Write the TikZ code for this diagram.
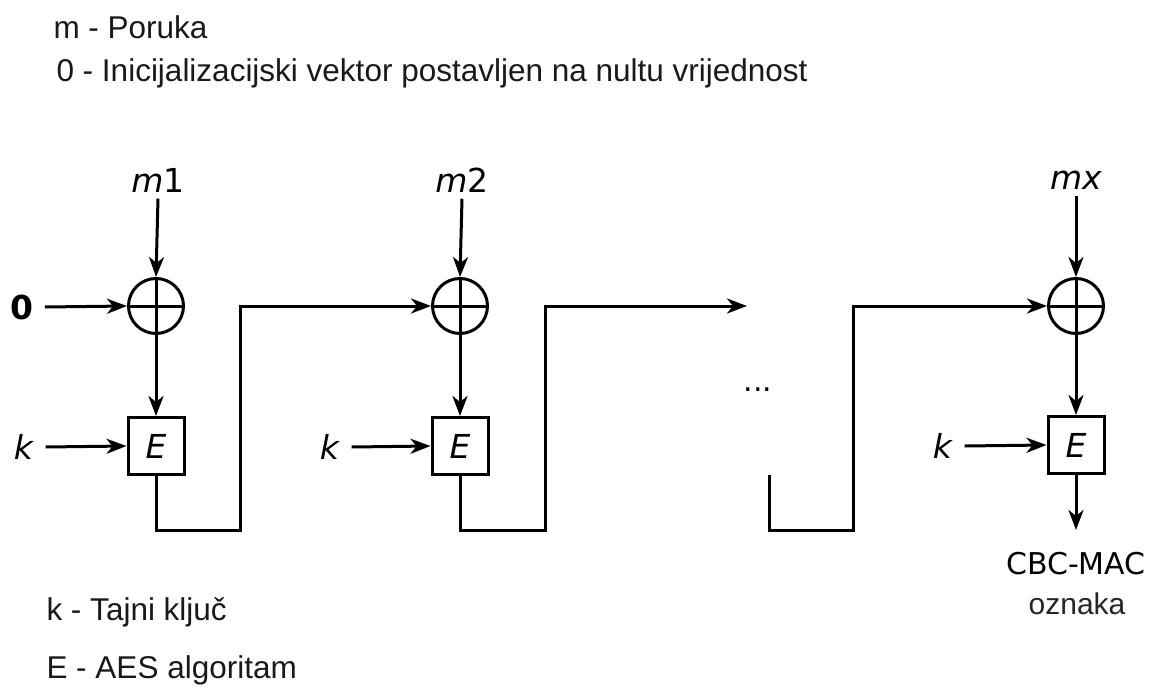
\documentclass[tikz,border=0pt]{standalone}
\usepackage{fontspec}
\setmainfont{Liberation Sans}
\newfontfamily\dv{DejaVu Sans}
\usetikzlibrary{arrows.meta}
\begin{document}
\begin{tikzpicture}[x=1pt,y=-1pt, line width=3pt,
 arr/.style={-{Stealth[length=20pt,width=15pt,inset=6pt]}},
 xorc/.style={circle, draw, minimum size=55pt, inner sep=0pt},
 ebox/.style={draw, minimum width=56pt, minimum height=57pt, inner sep=0pt, font=\dv\itshape\fontsize{33}{36}\selectfont},
 lbl/.style={font=\dv\fontsize{33}{36}\selectfont, inner sep=0pt},
 leg/.style={font=\fontsize{31.5}{36}\selectfont, anchor=west, inner sep=0pt, text=black!90}]
\useasboundingbox (0,0) rectangle (1168,688);

% legend
\node[leg] (lm) at (52,27) {m - Poruka};
\node[leg] (l0) at (55,73) {0 - Inicijalizacijski vektor postavljen na nultu vrijednost};
\node[leg] (lk) at (45,612) {k - Tajni klju\v{c}};
\node[leg] (le) at (45,670) {E - AES algoritam};

% block 1
\node[xorc] (x1) at (156,306) {};
\draw (x1.north) -- (x1.south) (x1.west) -- (x1.east);
\node[ebox] (e1) at (156,446) {E};
\node[lbl] (m1) at (158,180) {\textit{m}1};
\node[lbl, font=\dv\bfseries\fontsize{33}{36}\selectfont] (z) at (22,307) {0};
\node[lbl] (k1) at (24,447) {\textit{k}};
\draw[arr] ([yshift=-5pt]m1.south) -- (x1.north);
\draw[arr] ([xshift=10pt]z.east) -- (x1.west);
\draw[arr] (x1.south) -- (e1.north);
\draw[arr] ([xshift=10pt]k1.east) -- (e1.west);

% block 2
\node[xorc] (x2) at (460,306) {};
\draw (x2.north) -- (x2.south) (x2.west) -- (x2.east);
\node[ebox] (e2) at (460,446) {E};
\node[lbl] (m2) at (462,180) {\textit{m}2};
\node[lbl] (k2) at (330,447) {\textit{k}};
\draw[arr] ([yshift=-5pt]m2.south) -- (x2.north);
\draw[arr] (x2.south) -- (e2.north);
\draw[arr] ([xshift=10pt]k2.east) -- (e2.west);
\draw[arr] (e1.south) -- (156,530) -| (240,306) -- (x2.west);

% continuation
\coordinate (c1) at (747,306);
\draw[arr] (e2.south) -- (460,530) -| (545,306) -- (c1);
\node[font=\dv\fontsize{30}{34}\selectfont, inner sep=0pt] (dots) at (758,390) {...};
\coordinate (c2) at (769,475);

% block 3
\node[xorc] (x3) at (1076,306) {};
\draw (x3.north) -- (x3.south) (x3.west) -- (x3.east);
\node[ebox] (e3) at (1076,445) {E};
\node[lbl] (m3) at (1076,180) {\textit{mx}};
\node[lbl] (k3) at (943,446) {\textit{k}};
\draw[arr] ([yshift=-5pt]m3.south) -- (x3.north);
\draw[arr] (x3.south) -- (e3.north);
\draw[arr] ([xshift=10pt]k3.east) -- (e3.west);
\draw[arr] (c2) -- (769,530) -| (853,306) -- (x3.west);
\coordinate (c3) at (1076,530);
\draw[arr] (e3.south) -- (c3);

\node[font=\dv\fontsize{30}{34}\selectfont, inner sep=0pt] (cbc) at (1076,564) {CBC-MAC};
\node[font=\fontsize{30}{34}\selectfont, inner sep=0pt, text=black!85] (ozn) at (1077,604) {oznaka};
\end{tikzpicture}
\end{document}
